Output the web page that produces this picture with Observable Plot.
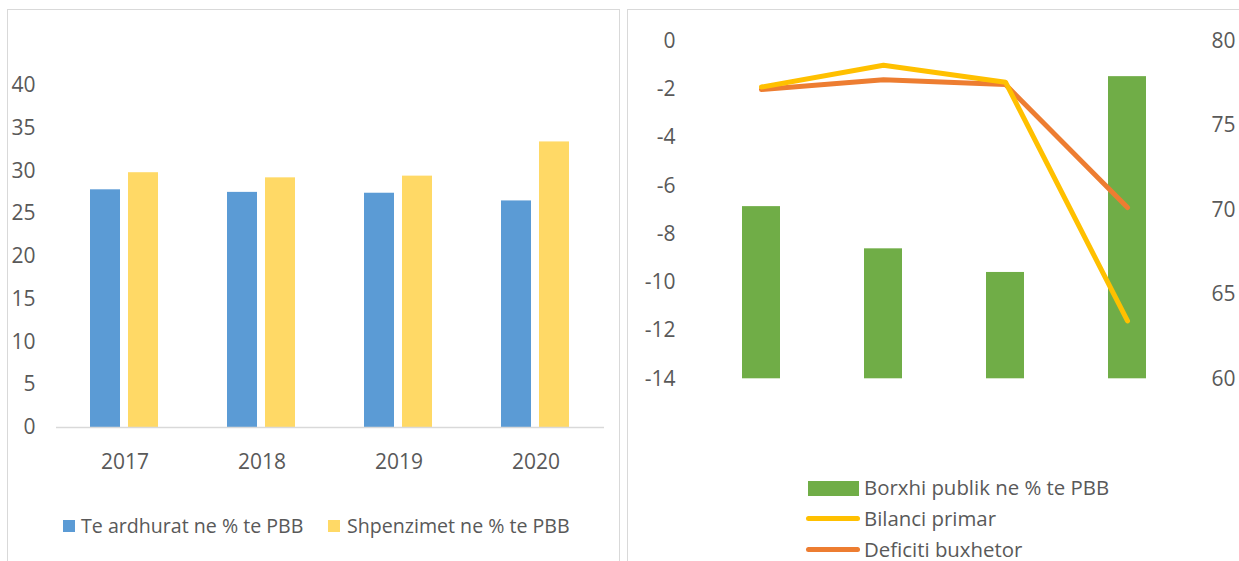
<!DOCTYPE html>
<html><head><meta charset="utf-8">
<script src="https://cdn.jsdelivr.net/npm/d3@7"></script>
<script src="https://cdn.jsdelivr.net/npm/@observablehq/plot@0.6"></script>
<style>
body{margin:0;background:#fff;width:1239px;height:561px;overflow:hidden;position:relative;font-family:"Open Sans",sans-serif;color:#595959;}
.panel{position:absolute;border:1px solid #d9d9d9;box-sizing:border-box;}
.chart{position:absolute;}
.leg{position:absolute;font-size:19.6px;line-height:1;white-space:nowrap;color:#595959;}
.legr{font-size:20.4px;}
.sw{position:absolute;}
</style>
</head><body>
<div class="panel" style="left:7px;top:9px;width:613px;height:600px;"></div>
<div class="panel" style="left:627px;top:9px;width:700px;height:600px;"></div>
<div id="c1" class="chart" style="left:7px;top:9px;"></div>
<div id="c2" class="chart" style="left:627px;top:9px;"></div>

<div class="sw" style="left:63px;top:520px;width:12px;height:12px;background:#5B9BD5"></div>
<div class="leg" style="left:81px;top:516px;">Te ardhurat ne % te PBB</div>
<div class="sw" style="left:328px;top:520px;width:12px;height:12px;background:#FFD966"></div>
<div class="leg" style="left:347px;top:516px;">Shpenzimet ne % te PBB</div>

<div class="sw" style="left:808px;top:481px;width:51px;height:15px;background:#70AD47"></div>
<div class="leg legr" style="left:864px;top:477px;">Borxhi publik ne % te PBB</div>
<div class="sw" style="left:806px;top:516px;width:54px;height:5px;border-radius:3px;background:#FFC000"></div>
<div class="leg legr" style="left:864px;top:508px;">Bilanci primar</div>
<div class="sw" style="left:806px;top:547px;width:54px;height:5px;border-radius:3px;background:#ED7D31"></div>
<div class="leg legr" style="left:864px;top:539px;">Deficiti buxhetor</div>

<script>
// ---- data ----
const years = ["2017", "2018", "2019", "2020"];
const teArdhurat = [27.8, 27.5, 27.4, 26.5];
const shpenzimet = [29.8, 29.2, 29.4, 33.4];
const borxhiPublik = [70.2, 67.7, 66.3, 77.9];
const bilanciPrimar = [-1.9, -1.0, -1.7, -11.6];
const deficitiBuxhetor = [-2.0, -1.6, -1.8, -6.9];
const leftTicks = [0, 5, 10, 15, 20, 25, 30, 35, 40];
const balanceTicks = [0, -2, -4, -6, -8, -10, -12, -14];
const debtTicks = [60, 65, 70, 75, 80];
const seriesNames = ["Te ardhurat ne % te PBB", "Shpenzimet ne % te PBB"];

const fontFam = '"Open Sans",sans-serif';

// ---- left chart ----
const rows = [];
years.forEach((y, i) => {
  rows.push({year: y, series: seriesNames[0], value: teArdhurat[i]});
  rows.push({year: y, series: seriesNames[1], value: shpenzimet[i]});
});

const c1 = Plot.plot({
  width: 612, height: 468,
  marginLeft: 48, marginRight: 14, marginTop: 76, marginBottom: 50,
  style: {fontSize: "21px", fontFamily: fontFam, color: "#595959", background: "transparent"},
  fx: {domain: years, padding: 0, tickSize: 0, tickPadding: 27, label: null},
  x: {domain: seriesNames, paddingInner: 0.208, paddingOuter: 0.89, axis: null},
  y: {domain: [0, 40], ticks: leftTicks, tickSize: 0, tickPadding: 21, label: null, tickFormat: d => String(d)},
  color: {domain: seriesNames, range: ["#5B9BD5", "#FFD966"]},
  marks: [
    Plot.barY(rows, {fx: "year", x: "series", y: "value", fill: "series"}),
    Plot.ruleY([0], {stroke: "#d9d9d9", strokeWidth: 1.5})
  ]
});
document.getElementById("c1").appendChild(c1);

// ---- right chart ----
const debtToBal = d3.scaleLinear().domain([60, 80]).range([-14, 0]);
const balToDebt = debtToBal.invert;

const c2 = Plot.plot({
  width: 612, height: 400,
  marginLeft: 72, marginRight: 49, marginTop: 31.7, marginBottom: 30.7,
  style: {fontSize: "21px", fontFamily: fontFam, color: "#595959", background: "transparent"},
  x: {domain: years, paddingInner: 0.688, paddingOuter: 0.344, axis: null},
  y: {domain: [-14, 0]},
  marks: [
    Plot.axisY(balanceTicks, {anchor: "left", tickSize: 0, tickPadding: 24, label: null, tickFormat: d => String(d)}),
    Plot.axisY(debtTicks.map(debtToBal), {anchor: "right", tickSize: 0, tickPadding: 21, label: null, textAnchor: "start", tickFormat: d => String(Math.round(balToDebt(d)))}),
    Plot.barY(years, {x: d => d, y1: () => -14, y2: (d, i) => debtToBal(borxhiPublik[i]), fill: "#70AD47"}),
    Plot.line(years, {x: d => d, y: (d, i) => deficitiBuxhetor[i], stroke: "#ED7D31", strokeWidth: 5, strokeLinecap: "round", strokeLinejoin: "round"}),
    Plot.line(years, {x: d => d, y: (d, i) => bilanciPrimar[i], stroke: "#FFC000", strokeWidth: 5, strokeLinecap: "round", strokeLinejoin: "round"})
  ]
});
document.getElementById("c2").appendChild(c2);
</script>
</body></html>
